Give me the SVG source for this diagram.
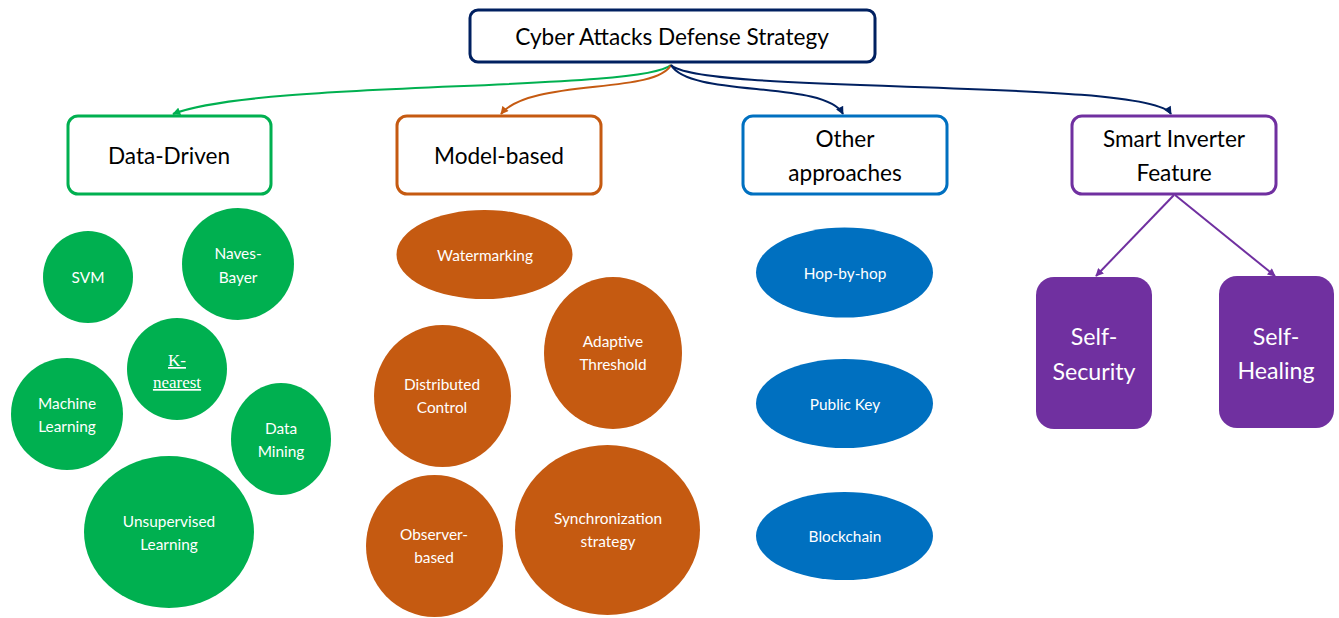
<svg xmlns="http://www.w3.org/2000/svg" width="1339" height="618" viewBox="0 0 1339 618">
  <style>
    .box { fill: #ffffff; stroke-width: 3; }
    .title { font-family: Lato, "Liberation Sans", sans-serif; font-size: 22.6px; fill: #000000; text-anchor: middle; }
    .label { font-family: Lato, "Liberation Sans", sans-serif; font-size: 15.4px; fill: #ffffff; text-anchor: middle; }
    .big { font-family: Lato, "Liberation Sans", sans-serif; font-size: 23.2px; fill: #ffffff; text-anchor: middle; }
    .serif { font-family: "Liberation Serif", serif; font-size: 17px; fill: #ffffff; text-anchor: middle; text-decoration: underline; }
    .green { fill: #00B050; }
    .orange { fill: #C55A11; }
    .blue { fill: #0070C0; }
    .purple { fill: #7030A0; }
    .link { fill: none; stroke-width: 2; }
  </style>
  <defs>
    <marker id="ah-green" viewBox="0 0 10 10" refX="9" refY="5" markerWidth="9" markerHeight="8" orient="auto" markerUnits="userSpaceOnUse">
      <path d="M0,0 L10,5 L0,10 z" fill="#00B050"/>
    </marker>
    <marker id="ah-orange" viewBox="0 0 10 10" refX="9" refY="5" markerWidth="9" markerHeight="8" orient="auto" markerUnits="userSpaceOnUse">
      <path d="M0,0 L10,5 L0,10 z" fill="#C55A11"/>
    </marker>
    <marker id="ah-navy" viewBox="0 0 10 10" refX="9" refY="5" markerWidth="9" markerHeight="8" orient="auto" markerUnits="userSpaceOnUse">
      <path d="M0,0 L10,5 L0,10 z" fill="#002060"/>
    </marker>
    <marker id="ah-purple" viewBox="0 0 10 10" refX="9" refY="5" markerWidth="9" markerHeight="8" orient="auto" markerUnits="userSpaceOnUse">
      <path d="M0,0 L10,5 L0,10 z" fill="#7030A0"/>
    </marker>
  </defs>

  <!-- connectors -->
  <g id="connectors">
    <path class="link" stroke="#00B050" d="M671,65 C640,92 260,80 173,114" marker-end="url(#ah-green)"/>
    <path class="link" stroke="#C55A11" d="M671,65 C655,95 530,78 501,114" marker-end="url(#ah-orange)"/>
    <path class="link" stroke="#002060" d="M671,65 C690,98 825,80 843,114" marker-end="url(#ah-navy)"/>
    <path class="link" stroke="#002060" d="M671,65 C700,95 1150,78 1171,114" marker-end="url(#ah-navy)"/>
    <path class="link" stroke="#7030A0" stroke-width="1.5" d="M1174,195 L1096,276" marker-end="url(#ah-purple)"/>
    <path class="link" stroke="#7030A0" stroke-width="1.5" d="M1175,195 L1275,276" marker-end="url(#ah-purple)"/>
  </g>

  <!-- root -->
  <g id="root">
    <rect class="box" x="470" y="10" width="405" height="52" rx="8" stroke="#002060"/>
    <text class="title" x="672" y="45">Cyber Attacks Defense Strategy</text>
  </g>

  <!-- category boxes -->
  <g id="data-driven">
    <rect class="box" x="68" y="116" width="203" height="78" rx="10" stroke="#00B050"/>
    <text class="title" x="169" y="164">Data-Driven</text>
  </g>
  <g id="model-based">
    <rect class="box" x="397" y="116" width="204" height="78" rx="10" stroke="#C55A11"/>
    <text class="title" x="499" y="164">Model-based</text>
  </g>
  <g id="other-approaches">
    <rect class="box" x="743" y="116" width="204" height="78" rx="10" stroke="#0070C0"/>
    <text class="title" x="845" y="147">Other</text>
    <text class="title" x="845" y="181">approaches</text>
  </g>
  <g id="smart-inverter">
    <rect class="box" x="1072" y="116" width="204" height="78" rx="10" stroke="#7030A0"/>
    <text class="title" x="1174" y="147">Smart Inverter</text>
    <text class="title" x="1174" y="181">Feature</text>
  </g>

  <!-- data-driven methods -->
  <g id="svm">
    <ellipse class="green" cx="88" cy="277" rx="45" ry="46"/>
    <text class="label" x="88" y="283">SVM</text>
  </g>
  <g id="naves-bayer">
    <ellipse class="green" cx="238" cy="264" rx="56" ry="56"/>
    <text class="label" x="238" y="259">Naves-</text>
    <text class="label" x="238" y="283">Bayer</text>
  </g>
  <g id="k-nearest">
    <ellipse class="green" cx="177" cy="369" rx="50" ry="51"/>
    <text class="serif" x="177" y="366">K-</text>
    <text class="serif" x="177" y="388">nearest</text>
  </g>
  <g id="machine-learning">
    <ellipse class="green" cx="67" cy="414" rx="56" ry="56"/>
    <text class="label" x="67" y="409">Machine</text>
    <text class="label" x="67" y="432">Learning</text>
  </g>
  <g id="data-mining">
    <ellipse class="green" cx="281" cy="439" rx="50" ry="56"/>
    <text class="label" x="281" y="434">Data</text>
    <text class="label" x="281" y="457">Mining</text>
  </g>
  <g id="unsupervised-learning">
    <ellipse class="green" cx="169" cy="532" rx="85" ry="76"/>
    <text class="label" x="169" y="527">Unsupervised</text>
    <text class="label" x="169" y="550">Learning</text>
  </g>

  <!-- model-based methods -->
  <g id="watermarking">
    <ellipse class="orange" cx="484.5" cy="254.5" rx="88" ry="44.5"/>
    <text class="label" x="485" y="261">Watermarking</text>
  </g>
  <g id="adaptive-threshold">
    <ellipse class="orange" cx="613" cy="353" rx="69" ry="76"/>
    <text class="label" x="613" y="347">Adaptive</text>
    <text class="label" x="613" y="370">Threshold</text>
  </g>
  <g id="distributed-control">
    <ellipse class="orange" cx="442.5" cy="396" rx="68.5" ry="71"/>
    <text class="label" x="442" y="390">Distributed</text>
    <text class="label" x="442" y="413">Control</text>
  </g>
  <g id="observer-based">
    <ellipse class="orange" cx="434.5" cy="546" rx="68.5" ry="71"/>
    <text class="label" x="434" y="540">Observer-</text>
    <text class="label" x="434" y="563">based</text>
  </g>
  <g id="synchronization-strategy">
    <ellipse class="orange" cx="607.5" cy="530" rx="92.5" ry="85"/>
    <text class="label" x="608" y="524">Synchronization</text>
    <text class="label" x="608" y="547">strategy</text>
  </g>

  <!-- other approaches -->
  <g id="hop-by-hop">
    <ellipse class="blue" cx="844.5" cy="272.5" rx="88.5" ry="45"/>
    <text class="label" x="845" y="279">Hop-by-hop</text>
  </g>
  <g id="public-key">
    <ellipse class="blue" cx="844.5" cy="403.5" rx="88.5" ry="44.5"/>
    <text class="label" x="845" y="410">Public Key</text>
  </g>
  <g id="blockchain">
    <ellipse class="blue" cx="844.5" cy="536" rx="88.5" ry="44"/>
    <text class="label" x="845" y="542">Blockchain</text>
  </g>

  <!-- smart inverter features -->
  <g id="self-security">
    <rect class="purple" x="1036" y="277" width="116" height="152" rx="18"/>
    <text class="big" x="1094" y="345">Self-</text>
    <text class="big" x="1094" y="380">Security</text>
  </g>
  <g id="self-healing">
    <rect class="purple" x="1219" y="276" width="115" height="152" rx="18"/>
    <text class="big" x="1276" y="345">Self-</text>
    <text class="big" x="1276" y="379">Healing</text>
  </g>
</svg>
